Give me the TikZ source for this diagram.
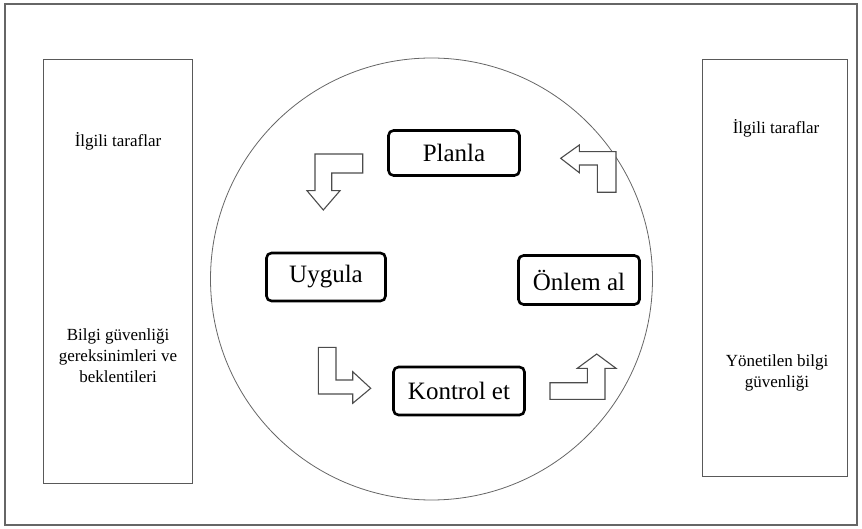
\documentclass[tikz,border=0pt]{standalone}
\usepackage{fontspec}
\setmainfont{Liberation Serif}
\begin{document}
\begin{tikzpicture}[x=1pt,y=-1pt,
  frame/.style={draw=black!60, line width=1.4pt},
  sidebox/.style={draw=black!65, line width=1.4pt},
  stage/.style={draw=black, line width=2.6pt, rounded corners=5pt, font=\fontsize{25}{29}\selectfont, inner sep=0pt},
  bent/.style={draw=black!70, line width=1.1pt, fill=white, line join=miter},
  sidetext/.style={font=\fontsize{17}{21}\selectfont, align=center}]
\useasboundingbox (0,0) rectangle (862,529);
\draw[frame] (5,4) rectangle (857,525) ;
\node[sidebox, minimum width=149pt, minimum height=424pt, anchor=north west, inner sep=0pt] (lbox) at (43,59) {};
\node[sidebox, minimum width=145pt, minimum height=417pt, anchor=north west, inner sep=0pt] (rbox) at (702,59) {};
\node[draw=black!60, line width=0.8pt, circle, minimum size=442pt, inner sep=0pt] (cyc) at (431.5,279) {};
\node[sidetext] (l1) at (118,141) {İlgili taraflar};
\node[sidetext] (l2) at (118,356) {Bilgi güvenliği\\gereksinimleri ve\\beklentileri};
\node[sidetext] (r1) at (776,128) {İlgili taraflar};
\node[sidetext] (r2) at (777,373) {Yönetilen bilgi\\güvenliği};
\node[stage, minimum width=131pt, minimum height=45pt] (plan) at (454,153) {Planla};
\node[stage, minimum width=119pt, minimum height=48pt] (do) at (326,277) {Uygula};
\node[stage, minimum width=121pt, minimum height=49pt] (act) at (579,280) {Önlem al};
\node[stage, minimum width=131pt, minimum height=48pt] (check) at (459,391) {Kontrol et};
% bent arrows
\draw[bent] (362.7,154) -- (315,154) -- (315,190.7) -- (307,190.7) -- (323.3,210) -- (340,190.7) -- (331.7,190.7) -- (331.7,173) -- (362.7,173) -- cycle;
\draw[bent] (616,192.3) -- (616,151.7) -- (579.3,151.7) -- (579.3,145) -- (560.7,158.3) -- (579.3,172.7) -- (579.3,165) -- (597.3,165) -- (597.3,192.3) -- cycle;
\draw[bent] (318.3,347.3) -- (336,347.3) -- (336,380) -- (352.7,380) -- (352.7,371.7) -- (370.7,388.3) -- (352.7,403.3) -- (352.7,394) -- (318.3,394) -- cycle;
\draw[bent] (550,382.7) -- (587.3,382.7) -- (587.3,368.3) -- (577.3,368.3) -- (596.7,354) -- (616,368.3) -- (605,368.3) -- (605,399.3) -- (550,399.3) -- cycle;
\end{tikzpicture}
\end{document}
